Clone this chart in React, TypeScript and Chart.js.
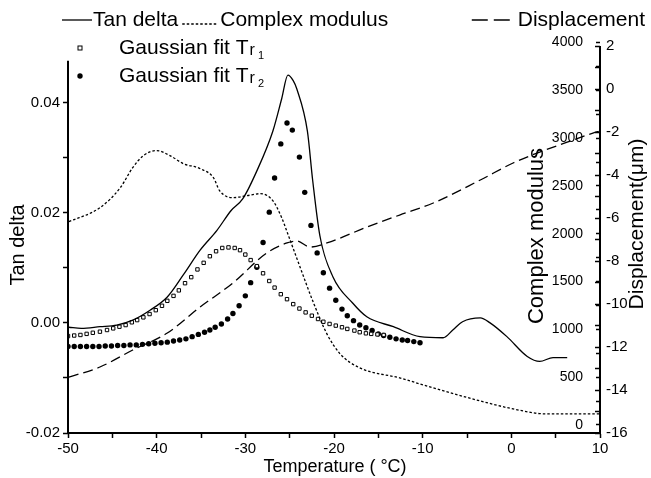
import { useEffect, useRef } from 'react';
import { Chart, registerables } from 'chart.js';

Chart.register(...registerables);

// ---------- data ----------
const TAN_T = [-49.9, -48.5, -46.4, -44.5, -42.7, -40.75, -38.8, -37.0, -35.1, -33.2, -31.6, -30.3, -28.7, -26.9, -25.9, -25.2, -24.6, -24.2, -23.0, -22.4, -21.6, -20.1, -17.9, -16.3, -13.3, -10.3, -7.7, -6.6, -5.5, -3.5, -2.4, -0.5, 1.8, 3.2, 4.7, 6.3];
const TAN_V = [-0.0008, -0.0010, -0.0007, -0.0004, 0.0005, 0.0023, 0.0047, 0.0087, 0.0132, 0.0168, 0.0204, 0.0225, 0.0276, 0.0348, 0.0407, 0.0450, 0.0440, 0.0425, 0.0348, 0.0258, 0.0159, 0.0083, 0.0036, 0.0011, -0.0007, -0.0025, -0.0027, -0.0013, 0.0002, 0.0009, 0.0000, -0.0025, -0.0061, -0.0070, -0.0063, -0.0063];

const MOD_T = [-49.9, -46.4, -44.1, -42.7, -41.5, -40.0, -38.5, -37.0, -35.1, -33.6, -32.9, -31.4, -29.8, -28.3, -26.9, -25.9, -25.3, -23.8, -22.4, -20.8, -19.3, -17.1, -12.6, -8.8, -3.5, 0.2, 4.0, 6.95, 10.0];
const MOD_V = [2126, 2272, 2482, 2691, 2817, 2869, 2817, 2733, 2681, 2586, 2450, 2377, 2398, 2419, 2346, 2168, 2021, 1644, 1298, 953, 743, 597, 492, 387, 251, 168, 115, 115, 115];

const DISP_T = [-49.9, -46.4, -42.7, -38.8, -35.1, -31.4, -27.6, -25.3, -24.2, -22.7, -20.8, -16.3, -12.6, -8.8, -3.5, 0.2, 3.2, 6.3, 9.2, 10.0];
const DISP_V = [-13.40, -12.93, -12.14, -11.35, -10.14, -9.02, -7.63, -7.16, -7.07, -7.35, -7.16, -6.42, -5.86, -5.30, -4.23, -3.44, -2.93, -2.47, -2.05, -1.95];

const FIT1_T = [-50, -49.3, -48.6, -47.9, -47.2, -46.4, -45.6, -44.9, -44.2, -43.5, -42.8, -42.2, -41.5, -40.8, -40.1, -39.4, -38.8, -38.1, -37.5, -36.8, -36.1, -35.4, -34.7, -34.0, -33.3, -32.6, -31.9, -31.2, -30.6, -30.0, -29.4, -28.7, -28.0, -27.3, -26.7, -26.0, -25.3, -24.6, -23.9, -23.2, -22.5, -21.8, -21.2, -20.5, -19.8, -19.1, -18.5, -17.7, -17.1, -16.4, -15.8, -15.1, -14.4];
const FIT1_V = [-0.0024, -0.0023, -0.0022, -0.0020, -0.0018, -0.0016, -0.0013, -0.0010, -0.0007, -0.0004, 0.0001, 0.0005, 0.0010, 0.0016, 0.0023, 0.0031, 0.0040, 0.0049, 0.0059, 0.0072, 0.0083, 0.0097, 0.0109, 0.0121, 0.0130, 0.0136, 0.0137, 0.0136, 0.0132, 0.0124, 0.0114, 0.0103, 0.0090, 0.0076, 0.0064, 0.0052, 0.0043, 0.0034, 0.0026, 0.0019, 0.0013, 0.0007, 0.0002, -0.0002, -0.0005, -0.0008, -0.0011, -0.0014, -0.0017, -0.0019, -0.0020, -0.0021, -0.0022];

const FIT2_T = [-50, -49.3, -48.6, -47.9, -47.2, -46.5, -45.8, -45.1, -44.4, -43.7, -43.0, -42.3, -41.6, -40.9, -40.2, -39.5, -38.8, -38.1, -37.4, -36.7, -36.0, -35.3, -34.6, -34.0, -33.4, -32.7, -32.0, -31.4, -30.7, -30.0, -29.4, -28.7, -28.0, -27.3, -26.7, -26.0, -25.3, -24.7, -23.9, -23.3, -22.6, -21.9, -21.2, -20.5, -19.8, -19.1, -18.5, -17.8, -17.1, -16.4, -15.7, -15.0, -14.4, -13.7, -13.0, -12.3, -11.7, -11.0, -10.3];
const FIT2_V = [-0.0043, -0.0043, -0.0043, -0.0043, -0.0043, -0.0043, -0.0042, -0.0042, -0.0041, -0.0041, -0.0040, -0.0040, -0.0039, -0.0038, -0.0037, -0.0036, -0.0035, -0.0033, -0.0031, -0.0029, -0.0025, -0.0021, -0.0017, -0.0013, -0.0008, -0.0002, 0.0007, 0.0017, 0.0031, 0.0049, 0.0073, 0.0101, 0.0146, 0.0201, 0.0263, 0.0325, 0.0363, 0.0350, 0.0301, 0.0237, 0.0177, 0.0127, 0.0091, 0.0063, 0.0041, 0.0025, 0.0013, 0.0004, -0.0004, -0.0009, -0.0014, -0.0020, -0.0023, -0.0026, -0.0029, -0.0031, -0.0032, -0.0034, -0.0036];

const X_TICKS = [-50, -45, -40, -35, -30, -25, -20, -15, -10, -5, 0, 5, 10];
const X_LABELED = [-50, -40, -30, -20, -10, 0, 10];
const TAN_TICKS = [-0.02, -0.01, 0, 0.01, 0.02, 0.03, 0.04];
const TAN_LABELED = [-0.02, 0, 0.02, 0.04];
const MOD_TICKS = [0, 250, 500, 750, 1000, 1250, 1500, 1750, 2000, 2250, 2500, 2750, 3000, 3250, 3500, 3750, 4000];
const MOD_LABELED = [0, 500, 1000, 1500, 2000, 2500, 3000, 3500, 4000];
const DISP_TICKS = [-16, -15, -14, -13, -12, -11, -10, -9, -8, -7, -6, -5, -4, -3, -2, -1, 0, 1, 2];
const DISP_LABELED = [-16, -14, -12, -10, -8, -6, -4, -2, 0, 2];

const SERIES_NAMES = ['Tan delta', 'Complex modulus', 'Displacement'];
const FIT_NAME = 'Gaussian fit T';
const FIT_SUB = 'r';
const FIT_INDEX = ['1', '2'];
const TITLE_X = 'Temperature ( °C)';
const TITLE_TAN = 'Tan delta';
const TITLE_MOD = 'Complex modulus';
const TITLE_DISP = 'Displacement(μm)';

const FONT = 'Liberation Sans, Arial, Helvetica, sans-serif';

const zip = (xs: number[], ys: number[]) => xs.map((v, i) => ({ x: v, y: ys[i] }));
const setTicks = (vals: number[]) => (scale: any) => {
  scale.ticks = vals.map((v) => ({ value: v }));
};

const overlay = {
  id: 'overlay',
  afterDraw(chart: any) {
    const ctx: CanvasRenderingContext2D = chart.ctx;
    const { x, y, yD } = chart.scales;
    const area = chart.chartArea;
    ctx.save();
    ctx.strokeStyle = '#000';
    ctx.fillStyle = '#000';
    ctx.lineWidth = 2;
    ctx.setLineDash([]);
    // axis lines
    ctx.beginPath();
    ctx.moveTo(area.left, y.getPixelForValue(0.0476));
    ctx.lineTo(area.left, area.bottom + 1);
    ctx.stroke();
    ctx.beginPath();
    ctx.moveTo(area.right, yD.getPixelForValue(2));
    ctx.lineTo(area.right, area.bottom + 1);
    ctx.stroke();

    // titles
    ctx.textBaseline = 'middle';
    ctx.textAlign = 'center';
    ctx.font = `18px ${FONT}`;
    ctx.fillText(TITLE_X, 335, 467);
    const vtext = (t: string, cx: number, cy: number, size: number) => {
      ctx.save();
      ctx.translate(cx, cy);
      ctx.rotate(-Math.PI / 2);
      ctx.font = `${size}px ${FONT}`;
      ctx.fillText(t, 0, 0);
      ctx.restore();
    };
    vtext(TITLE_TAN, 18, 245, 20);
    vtext(TITLE_MOD, 537, 236, 22);
    vtext(TITLE_DISP, 637, 224, 21);

    // top legend
    ctx.textAlign = 'left';
    ctx.font = `21px ${FONT}`;
    const ly = 20;
    ctx.lineWidth = 1.3;
    ctx.beginPath();
    ctx.moveTo(62, ly);
    ctx.lineTo(92, ly);
    ctx.stroke();
    ctx.fillText(SERIES_NAMES[0], 93, ly);
    let cx = 93 + ctx.measureText(SERIES_NAMES[0]).width + 4;
    ctx.setLineDash([2.5, 2]);
    ctx.beginPath();
    ctx.moveTo(cx, ly + 4);
    ctx.lineTo(cx + 36, ly + 4);
    ctx.stroke();
    cx += 38;
    ctx.fillText(SERIES_NAMES[1], cx, ly);
    ctx.setLineDash([]);
    const dispW = ctx.measureText(SERIES_NAMES[2]).width;
    const dx = 645 - dispW;
    ctx.fillText(SERIES_NAMES[2], dx, ly);
    ctx.beginPath();
    ctx.moveTo(dx - 46, ly);
    ctx.lineTo(dx - 30, ly);
    ctx.moveTo(dx - 24, ly);
    ctx.lineTo(dx - 8, ly);
    ctx.stroke();

    // inner legend
    const items = [48, 76];
    items.forEach((iy, i) => {
      if (i === 0) {
        ctx.fillStyle = '#fff';
        ctx.fillRect(78, iy - 2, 4, 4);
        ctx.strokeStyle = '#000';
        ctx.lineWidth = 1;
        ctx.strokeRect(78, iy - 2, 4, 4);
      } else {
        ctx.fillStyle = '#000';
        ctx.beginPath();
        ctx.arc(80, iy, 2.7, 0, Math.PI * 2);
        ctx.fill();
      }
      ctx.fillStyle = '#000';
      ctx.font = `21px ${FONT}`;
      ctx.fillText(FIT_NAME, 119, iy);
      let tx = 119 + ctx.measureText(FIT_NAME).width + 1;
      ctx.font = `16px ${FONT}`;
      ctx.fillText(FIT_SUB, tx, iy + 3);
      tx += ctx.measureText(FIT_SUB).width + 3;
      ctx.font = `11px ${FONT}`;
      ctx.fillText(FIT_INDEX[i], tx, iy + 8);
    });
    ctx.restore();
  },
};

export default function App() {
  const ref = useRef<HTMLCanvasElement>(null);
  useEffect(() => {
    document.body.style.margin = '0';
    if (!ref.current) return;
    Chart.defaults.font.family = FONT;
    Chart.defaults.color = '#000';
    const axisGrid = (len: number) => ({
      display: true,
      drawOnChartArea: false,
      drawTicks: true,
      tickLength: len,
      color: '#000',
      tickColor: '#000',
      tickWidth: 1.5,
    });
    const chart = new Chart(ref.current, {
      type: 'scatter',
      data: {
        datasets: [
          {
            label: SERIES_NAMES[0],
            data: zip(TAN_T, TAN_V),
            yAxisID: 'y',
            showLine: true,
            borderColor: '#000',
            borderWidth: 1.3,
            pointRadius: 0,
            cubicInterpolationMode: 'monotone',
          },
          {
            label: SERIES_NAMES[1],
            data: zip(MOD_T, MOD_V),
            yAxisID: 'yC',
            showLine: true,
            borderColor: '#000',
            borderWidth: 1.3,
            borderDash: [2.5, 2],
            pointRadius: 0,
            cubicInterpolationMode: 'monotone',
          },
          {
            label: SERIES_NAMES[2],
            data: zip(DISP_T, DISP_V),
            yAxisID: 'yD',
            showLine: true,
            borderColor: '#000',
            borderWidth: 1.3,
            borderDash: [10, 5],
            pointRadius: 0,
            cubicInterpolationMode: 'monotone',
          },
          {
            label: FIT_NAME + '1',
            data: zip(FIT1_T, FIT1_V),
            yAxisID: 'y',
            showLine: false,
            pointStyle: 'rect',
            pointRadius: 2.4,
            pointBackgroundColor: '#fff',
            pointBorderColor: '#000',
            pointBorderWidth: 1,
          },
          {
            label: FIT_NAME + '2',
            data: zip(FIT2_T, FIT2_V),
            yAxisID: 'y',
            showLine: false,
            pointStyle: 'circle',
            pointRadius: 2.7,
            pointBackgroundColor: '#000',
            pointBorderColor: '#000',
            pointBorderWidth: 0,
          },
        ] as any,
      },
      options: {
        animation: false,
        responsive: false,
        layout: { padding: { top: 42, left: 0, right: 0, bottom: 0 } },
        plugins: { legend: { display: false }, tooltip: { enabled: false } },
        scales: {
          x: {
            type: 'linear',
            position: 'bottom',
            min: -50,
            max: 10,
            afterBuildTicks: setTicks(X_TICKS),
            afterFit: (s: any) => { s.height = 45; },
            grid: axisGrid(5),
            border: { display: true, color: '#000', width: 2 },
            ticks: {
              padding: 2,
              font: { size: 15 },
              color: '#000',
              maxRotation: 0,
              autoSkip: false,
              callback: (v: any) => (X_LABELED.includes(v) ? String(v) : ''),
            },
          },
          y: {
            type: 'linear',
            position: 'left',
            min: -0.02,
            max: 0.051,
            afterBuildTicks: setTicks(TAN_TICKS),
            afterFit: (s: any) => { s.width = 68; },
            grid: axisGrid(5),
            border: { display: false },
            ticks: {
              padding: 3,
              font: { size: 15 },
              color: '#000',
              autoSkip: false,
              callback: (v: any) => (TAN_LABELED.includes(v) ? Number(v).toFixed(2) : ''),
            },
          },
          yC: {
            type: 'linear',
            position: 'right',
            weight: 0,
            min: -84,
            max: 4005,
            afterBuildTicks: setTicks(MOD_TICKS),
            afterFit: (s: any) => { s.width = 0; },
            grid: axisGrid(-4),
            border: { display: false },
            ticks: {
              mirror: true,
              padding: -17,
              font: { size: 14 },
              color: '#000',
              autoSkip: false,
              callback: (v: any) => (MOD_LABELED.includes(v) ? String(v) : ''),
            },
          },
          yD: {
            type: 'linear',
            position: 'right',
            weight: 1,
            min: -16,
            max: 2.19,
            afterBuildTicks: setTicks(DISP_TICKS),
            afterFit: (s: any) => { s.width = 51; },
            grid: axisGrid(-5),
            border: { display: false },
            ticks: {
              padding: 11,
              font: { size: 15 },
              color: '#000',
              autoSkip: false,
              callback: (v: any) => (DISP_LABELED.includes(v) ? String(v) : ''),
            },
          },
        },
      } as any,
      plugins: [overlay],
    });
    return () => chart.destroy();
  }, []);
  return <canvas ref={ref} width={651} height={478} style={{ display: 'block' }} />;
}
